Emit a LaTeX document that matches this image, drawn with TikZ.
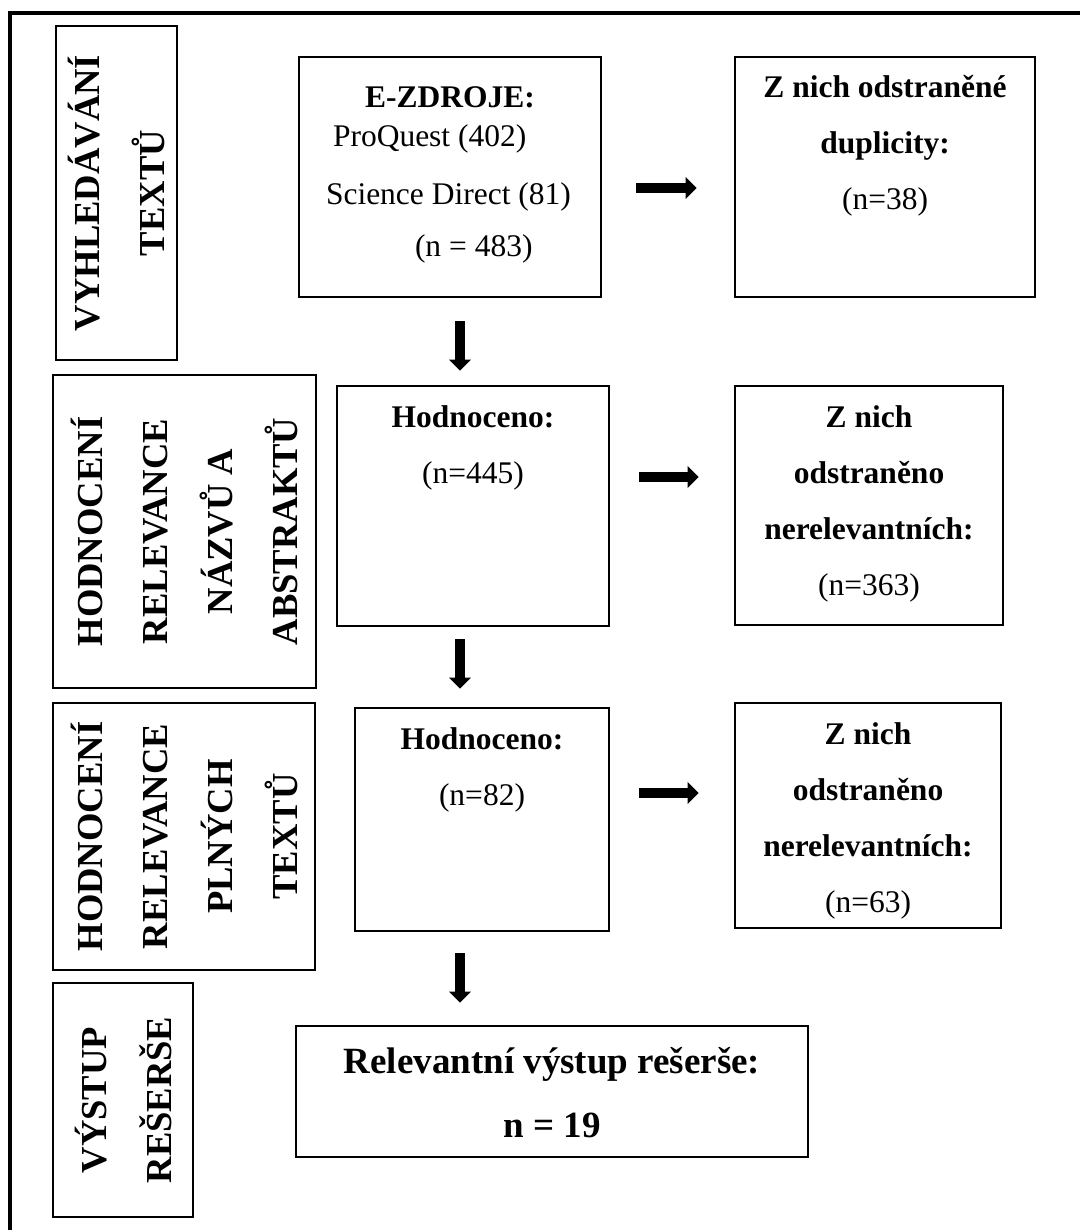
\documentclass[tikz,border=0pt]{standalone}
\usepackage{fontspec}
\setmainfont{Liberation Serif}
\usetikzlibrary{arrows.meta,positioning}
\newcommand{\boxtext}[4][20.5pt]{\parbox[c][#3][t]{#2}{\centering\rule{0pt}{#1}#4}}

\begin{document}
\begin{tikzpicture}[x=0.5pt,y=-0.5pt,
    box/.style={draw,line width=1.3pt,inner sep=0pt,font=\fontsize{15.75}{28}\selectfont},
    side/.style={draw,line width=1.3pt,inner sep=0pt,rotate=90,align=center,font=\fontsize{18.3}{32.5}\selectfont\bfseries},
    flow/.style={line width=5pt,-{Triangle[width=10.5pt,length=5.5pt]}}]
  \useasboundingbox (0,0) rectangle (1080,1230);
  \draw[line width=1.6pt] (1080,13) -- (10,13) -- (10,1230);

  \node[side,minimum width=167pt,minimum height=60.5pt] (vyhl) at (116.5,193) {VYHLEDÁVÁNÍ\\ TEXTŮ};
  \node[side,minimum width=156.5pt,minimum height=131.5pt] (hod1) at (184.5,531.5) {HODNOCENÍ\\ RELEVANCE\\ NÁZVŮ A\\ ABSTRAKTŮ};
  \node[side,minimum width=133.5pt,minimum height=131pt] (hod2) at (184,836.5) {HODNOCENÍ\\ RELEVANCE\\ PLNÝCH\\ TEXTŮ};
  \node[side,minimum width=117pt,minimum height=70pt] (vys) at (123,1100) {VÝSTUP\\ REŠERŠE};

  \node[box] (zdroje) at (450,177) {\parbox[c][120pt][t]{151pt}{\raggedright\rule{0pt}{25.5pt}\hspace*{33pt}\textbf{E-ZDROJE:}\\[-8.5pt]
    \hspace*{17pt}ProQuest (402)\\[1pt]\hspace*{13.5pt}Science Direct (81)\\[-2pt]\hspace*{58pt}(n = 483)}};
  \node[box] (dupl) at (885,177) {\boxtext{150pt}{120pt}{\textbf{Z nich odstraněné}\\ \textbf{duplicity:}\\ (n=38)}};
  \node[box] (hodn1) at (473,506) {\boxtext{136pt}{120pt}{\textbf{Hodnoceno:}\\ (n=445)}};
  \node[box] (zn1) at (869,505.5) {\boxtext{134pt}{119.5pt}{\textbf{Z nich}\\ \textbf{odstraněno}\\ \textbf{nerelevantních:}\\ (n=363)}};
  \node[box] (hodn2) at (482,819.5) {\boxtext{127pt}{111.5pt}{\textbf{Hodnoceno:}\\ (n=82)}};
  \node[box] (zn2) at (868,815.5) {\boxtext{133pt}{112.5pt}{\textbf{Z nich}\\ \textbf{odstraněno}\\ \textbf{nerelevantních:}\\ (n=63)}};
  \node[box,font=\fontsize{18.5}{32}\selectfont\bfseries] (rel) at (552,1091.5) {\boxtext[23.5pt]{256pt}{65.5pt}{Relevantní výstup rešerše:\\ n = 19}};

  \draw[flow,shorten <=17pt,shorten >=18.5pt] ([yshift=-5.5pt]zdroje.east) -- ([yshift=-5.5pt]dupl.west);
  \draw[flow,shorten <=11.5pt,shorten >=7pt] ([xshift=5pt]zdroje.south) -- ([xshift=5pt]zdroje.south |- hodn1.north);
  \draw[flow,shorten <=14.5pt,shorten >=17.5pt] ([yshift=14.5pt]hodn1.east) -- ([yshift=14.5pt]hodn1.east -| zn1.west);
  \draw[flow,shorten <=6pt,shorten >=9pt] ([xshift=-6.5pt]hodn1.south) -- ([xshift=-6.5pt]hodn1.south |- hodn2.north);
  \draw[flow,shorten <=14.5pt,shorten >=17.5pt] ([yshift=13.25pt]hodn2.east) -- ([yshift=13.25pt]hodn2.east -| zn2.west);
  \draw[flow,shorten <=10.5pt,shorten >=11pt] ([xshift=-11pt]hodn2.south) -- ([xshift=-11pt]hodn2.south |- rel.north);
\end{tikzpicture}
\end{document}
